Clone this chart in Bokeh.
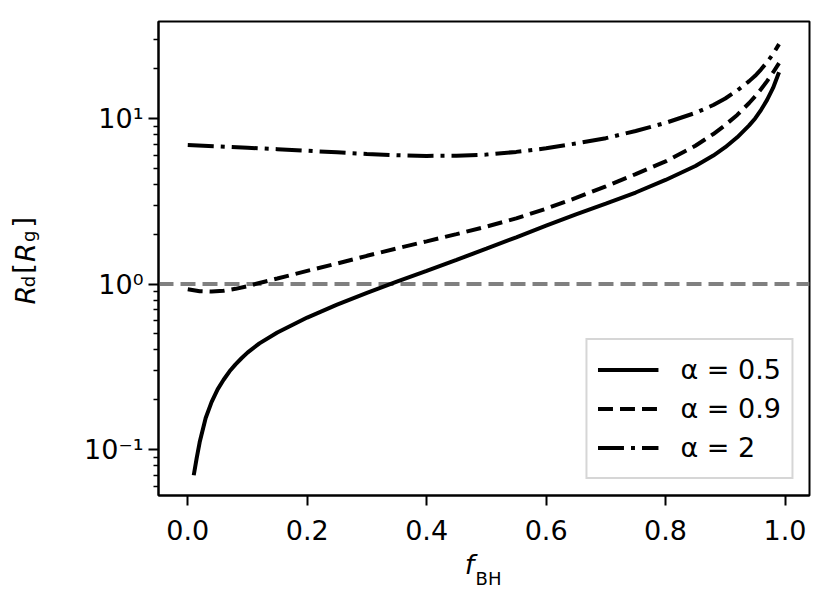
import math
from bokeh.plotting import figure
from bokeh.models import (Range1d, FixedTicker, Span, Legend, LegendItem,
                          LinearAxis, LogAxis)
from bokeh.embed import file_html
from bokeh.resources import INLINE

# ---- data ----
f_bh_a05 = [0.01, 0.015, 0.02, 0.03, 0.04, 0.05, 0.06, 0.07, 0.08, 0.09, 0.10,
            0.12, 0.15, 0.20, 0.25, 0.30, 0.35, 0.40, 0.45, 0.50,
            0.55, 0.60, 0.65, 0.70, 0.75, 0.80, 0.85, 0.88, 0.90,
            0.92, 0.94, 0.95, 0.96, 0.97, 0.98, 0.99]
rd_a05 = [0.070, 0.089, 0.111, 0.155, 0.194, 0.231, 0.264, 0.297, 0.327, 0.356, 0.385,
          0.438, 0.510, 0.627, 0.750, 0.883, 1.034, 1.202, 1.40, 1.633,
          1.914, 2.249, 2.636, 3.06, 3.57, 4.25, 5.16, 5.97, 6.70,
          7.69, 9.08, 10.0, 11.27, 12.94, 15.28, 19.0]

f_bh_a09 = [0.0, 0.02, 0.04, 0.06, 0.08, 0.10, 0.12, 0.15, 0.20, 0.25,
            0.30, 0.35, 0.40, 0.45, 0.50, 0.55, 0.60, 0.65, 0.70, 0.75,
            0.80, 0.85, 0.88, 0.90, 0.92, 0.94, 0.95, 0.96, 0.97, 0.98, 0.99]
rd_a09 = [0.93, 0.905, 0.90, 0.91, 0.935, 0.97, 1.015, 1.08, 1.2, 1.33,
          1.48, 1.64, 1.81, 2.0, 2.22, 2.49, 2.85, 3.31, 3.89, 4.61,
          5.5, 6.84, 8.05, 9.13, 10.5, 12.4, 13.6, 15.05, 16.8, 18.95, 21.6]

f_bh_a2 = [0.0, 0.05, 0.10, 0.15, 0.20, 0.25, 0.30, 0.35, 0.40, 0.45, 0.50,
           0.55, 0.60, 0.65, 0.70, 0.75, 0.80, 0.85, 0.88, 0.90, 0.92,
           0.94, 0.95, 0.96, 0.97, 0.98, 0.99]
rd_a2 = [6.9, 6.78, 6.65, 6.52, 6.38, 6.24, 6.1, 6.0, 5.94, 5.95, 6.05,
         6.28, 6.6, 7.06, 7.6, 8.4, 9.4, 10.8, 12.05, 13.2, 14.75,
         16.8, 18.1, 19.8, 21.9, 24.5, 28.1]

series_labels = ["α = 0.5", "α = 0.9", "α = 2"]
ref_level = 1.0

x_lo, x_hi = -0.049, 1.041
y_lo, y_hi = 0.0528, 38.5

x_ticks = [0.0, 0.2, 0.4, 0.6, 0.8, 1.0]
x_tick_labels = ["0.0", "0.2", "0.4", "0.6", "0.8", "1.0"]
y_ticks = [0.1, 1.0, 10.0]
y_tick_labels = ["10⁻¹", "10⁰", "10¹"]

FONT = "DejaVu Sans"

# ---- layout (page pixels) ----
W, H = 813, 591
FRAME_L, FRAME_R, FRAME_T, FRAME_B = 158, 809, 21, 497

p = figure(width=W, height=H, y_axis_type="log",
           x_range=Range1d(x_lo, x_hi), y_range=Range1d(y_lo, y_hi),
           output_backend="svg", toolbar_location=None,
           min_border_left=FRAME_L, min_border_right=W - FRAME_R,
           min_border_top=FRAME_T, min_border_bottom=H - FRAME_B)
p.background_fill_color = "white"
p.border_fill_color = "white"
p.outline_line_color = "black"
p.outline_line_width = 2
p.outline_line_alpha = 1.0
p.xgrid.visible = False
p.ygrid.visible = False

# reference line
p.add_layout(Span(location=ref_level, dimension="width", line_color="#808080",
                  line_width=4, line_dash="15 7", level="underlay"))

r1 = p.line(f_bh_a05, rd_a05, line_color="black", line_width=4)
r2 = p.line(f_bh_a09, rd_a09, line_color="black", line_width=4, line_dash="15 7")
r3 = p.line(f_bh_a2, rd_a2, line_color="black", line_width=4, line_dash="26 7 4 7")

# axes
minor = [m * 10.0 ** e for e in (-2, -1, 0, 1) for m in range(2, 10)]
p.xaxis.ticker = FixedTicker(ticks=x_ticks, minor_ticks=[])
p.xaxis.major_label_overrides = dict(zip(x_ticks, x_tick_labels))
p.yaxis.ticker = FixedTicker(ticks=y_ticks, minor_ticks=minor)
p.yaxis.major_label_overrides = dict(zip(y_ticks, y_tick_labels))

p.axis.axis_line_color = "black"
p.axis.axis_line_width = 2
p.axis.major_tick_line_color = "black"
p.axis.major_tick_line_width = 2
p.axis.minor_tick_line_color = "black"
p.axis.minor_tick_line_width = 1.7
p.axis.major_tick_out = 10
p.axis.major_tick_in = 0
p.axis.minor_tick_out = 5
p.axis.minor_tick_in = 0
p.axis.major_label_text_font = FONT
p.axis.major_label_text_font_size = "27px"
p.axis.major_label_text_color = "black"
p.xaxis.major_label_standoff = 14
p.yaxis.major_label_standoff = 5

# legend
legend = Legend(items=[LegendItem(label=series_labels[0], renderers=[r1]),
                       LegendItem(label=series_labels[1], renderers=[r2]),
                       LegendItem(label=series_labels[2], renderers=[r3])],
                location="bottom_right", margin=16, padding=10, spacing=0,
                glyph_width=61, glyph_height=39, label_height=39,
                label_standoff=22, label_text_font=FONT,
                label_text_font_size="27px", label_text_color="black",
                border_line_color="#cccccc", border_line_width=2,
                border_line_alpha=0.8, background_fill_color="white",
                background_fill_alpha=0.8)
p.add_layout(legend)

# ---- axis titles with subscripts, built as label-only axes ----
def px_to_x(px):
    return x_lo + (px - FRAME_L) / (FRAME_R - FRAME_L) * (x_hi - x_lo)

def py_to_y(py):
    l0, l1 = math.log10(y_lo), math.log10(y_hi)
    return 10 ** (l0 + (FRAME_B - py) / (FRAME_B - FRAME_T) * (l1 - l0))

def text_axis(kind, place, ticks, texts, size, italic, standoff, orient="horizontal"):
    ax = kind(ticker=FixedTicker(ticks=ticks, minor_ticks=[]),
              major_label_overrides=dict(zip(ticks, texts)),
              axis_line_color=None, major_tick_line_color=None,
              minor_tick_line_color=None, major_tick_out=0, major_tick_in=0,
              minor_tick_out=0, minor_tick_in=0,
              major_label_standoff=standoff,
              major_label_text_font=FONT, major_label_text_font_size=size,
              major_label_text_font_style="italic" if italic else "normal",
              major_label_text_color="black",
              major_label_orientation=orient)
    p.add_layout(ax, place)

# x title: f_BH  (centres of the pieces in page pixels)
text_axis(LinearAxis, "below", [px_to_x(469)], ["f"], "27px", True, 6)
text_axis(LinearAxis, "below", [px_to_x(488)], ["BH"], "18px", False, -15)

# y title: R_d[R_g]
text_axis(LogAxis, "left", [py_to_y(295.8), py_to_y(253.0)], ["R", "R"],
          "27px", True, 40, "vertical")
text_axis(LogAxis, "left", [py_to_y(269.0), py_to_y(222.5)], ["[", "]"],
          "27px", False, -31, "vertical")
text_axis(LogAxis, "left", [py_to_y(282.2), py_to_y(236.7)], ["d", "g"],
          "18px", False, -35, "vertical")

open("out.html", "w").write(file_html(p, INLINE))
